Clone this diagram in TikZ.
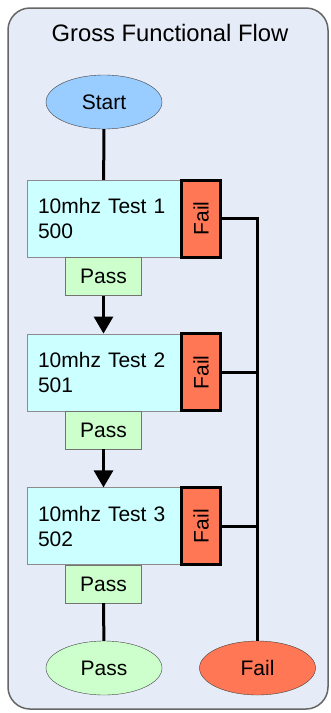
\documentclass[tikz,border=0pt]{standalone}
\usepackage{fontspec}
\setmainfont{Liberation Sans}
\usetikzlibrary{positioning,shapes.geometric,arrows.meta}
\definecolor{panelbg}{HTML}{E6ECF7}
\definecolor{startblue}{HTML}{99CCFF}
\definecolor{testcyan}{HTML}{CCFFFF}
\definecolor{passgreen}{HTML}{CCFFCC}
\definecolor{failred}{HTML}{FF7755}
\begin{document}
\begin{tikzpicture}[x=1pt,y=-1pt,
      conn/.style={line width=3pt},
      arr/.style={line width=3pt,-{Triangle[width=19pt,length=17pt]}}]
      \tikzstyle{every node}=[font=\fontsize{21}{25}\selectfont,
      inner sep=0pt] \tikzstyle{oval}=[ellipse,draw=black!75,
      minimum width=116pt,minimum height=54pt] \tikzstyle{testbox}=[rectangle,
      draw=black!45,fill=testcyan,minimum width=153pt,minimum
      height=77pt,text width=131pt,inner xsep=11pt,align=left]
      \tikzstyle{failbox}=[rectangle,draw=black,line width=3pt,
      fill=failred,minimum width=39pt,minimum height=77pt]
      \tikzstyle{passbox}=[rectangle,draw=black!55,fill=passgreen,
      minimum width=76pt,minimum height=38pt]
      \useasboundingbox (0,0) rectangle (330,713);
      \draw[draw=black!60,line width=1.5pt,fill=panelbg,rounded
      corners=22pt] (8,8) rectangle (328,709);
      \node (title) at (170,33) {\fontsize{23.8}{28}\selectfont Gross
      Functional Flow};
      \node[oval,fill=startblue] (start) at (104,102) {Start}; %top
      \node[testbox] (test1) at (103.5,218.5) {10mhz Test 1\\500};
      \node[failbox,right=0pt of test1] (fail1) {\rotatebox{90}{Fail}};
      \node[passbox,below=0pt of test1] (pass1) {Pass};
      \node[testbox,below=38pt of pass1] (test2) {10mhz Test 2\\501};
      \node[failbox,right=0pt of test2] (fail2) {\rotatebox{90}{Fail}};
      \node[passbox,below=0pt of test2] (pass2) {Pass};
      \node[testbox,below=38pt of pass2] (test3) {10mhz Test 3\\502};
      \node[failbox,right=0pt of test3] (fail3) {\rotatebox{90}{Fail}};
      \node[passbox,below=0pt of test3] (pass3) {Pass};
      \node[oval,fill=passgreen] (passend) at (104,668) {Pass}; %bottom
      \node[oval,fill=failred] (failend) at (257.5,668) {Fail};
      \draw[conn] (start) -- (test1);
      \draw[arr] (pass1) -- (test2);
      \draw[arr] (pass2) -- (test3);
      \draw[conn] (pass3) -- (passend);
      \draw[conn] (fail1.east) -| (failend.north);
      \draw[conn] (fail2.east) -- (fail2.east -| failend.north);
      \draw[conn] (fail3.east) -- (fail3.east -| failend.north);
    \end{tikzpicture}
\end{document}
